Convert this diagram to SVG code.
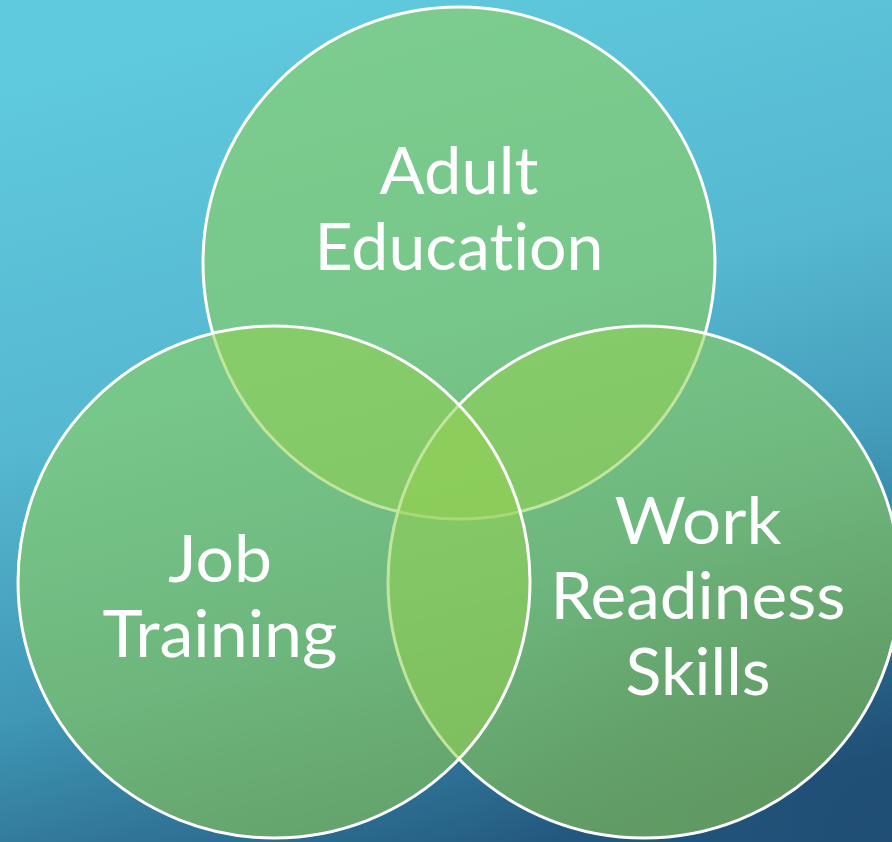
<svg xmlns="http://www.w3.org/2000/svg" width="892" height="842" viewBox="0 0 892 842">
  <defs>
    <linearGradient id="bg" gradientUnits="userSpaceOnUse" x1="330" y1="0" x2="560" y2="842">
      <stop offset="0" stop-color="#5FC9DD"/>
      <stop offset="0.4" stop-color="#56B8D1"/>
      <stop offset="0.7" stop-color="#3F96B5"/>
      <stop offset="1" stop-color="#245A80"/>
    </linearGradient>
    <radialGradient id="shade" gradientUnits="userSpaceOnUse" cx="892" cy="842" r="420">
      <stop offset="0" stop-color="#1A3E66" stop-opacity="0.45"/>
      <stop offset="1" stop-color="#1A3E66" stop-opacity="0"/>
    </radialGradient>
  </defs>
  <style>
    .c { fill: #93D052; fill-opacity: 0.56; stroke: #FFFFFF; stroke-width: 3; }
    .t { font-family: "Lato", "Open Sans", "DejaVu Sans", sans-serif; font-size: 66px; fill: #FFFFFF; text-anchor: middle; font-variant-ligatures: none; font-feature-settings: "liga" 0, "clig" 0; }
  </style>
  <rect x="0" y="0" width="892" height="842" fill="url(#bg)"/>
  <rect x="0" y="0" width="892" height="842" fill="url(#shade)"/>
  <g id="adult-education">
    <circle class="c" cx="459" cy="263" r="256"/>
    <text class="t" x="459" y="194" textLength="159" lengthAdjust="spacingAndGlyphs">Adult</text>
    <text class="t" x="459" y="270" textLength="289" lengthAdjust="spacingAndGlyphs">Education</text>
  </g>
  <g id="work-readiness-skills">
    <circle class="c" cx="644" cy="582" r="256"/>
    <text class="t" x="698" y="544" textLength="167" lengthAdjust="spacingAndGlyphs">Work</text>
    <text class="t" x="698" y="619" textLength="295" lengthAdjust="spacingAndGlyphs">Readiness</text>
    <text class="t" x="698" y="695" textLength="145" lengthAdjust="spacingAndGlyphs">Skills</text>
  </g>
  <g id="job-training">
    <circle class="c" cx="274" cy="582" r="256"/>
    <text class="t" x="220" y="582" textLength="104" lengthAdjust="spacingAndGlyphs">Job</text>
    <text class="t" x="220" y="657" textLength="235" lengthAdjust="spacingAndGlyphs">Training</text>
  </g>
  <g id="connectors"/>
</svg>
